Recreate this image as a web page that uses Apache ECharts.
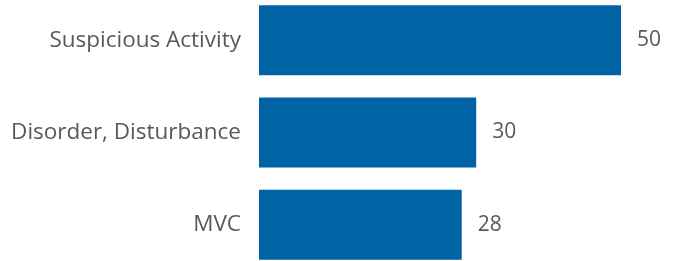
<!DOCTYPE html>
<html>
<head>
<meta charset="utf-8">
<script src="https://cdn.jsdelivr.net/npm/echarts@6/dist/echarts.min.js"></script>
<style>
  html, body { margin: 0; padding: 0; background: #fff; }
  #chart { width: 682px; height: 261px; }
</style>
</head>
<body>
<div id="chart"></div>
<script>
const categories = ['Suspicious Activity', 'Disorder, Disturbance', 'MVC']
const counts = [50, 30, 28]

const chart = echarts.init(document.getElementById('chart'))
chart.setOption({
  animation: false,
  grid: { left: 259, width: 362, top: -6, height: 277, outerBoundsMode: 'none' },
  xAxis: {
    type: 'value',
    min: 0,
    max: 50,
    show: false
  },
  yAxis: {
    type: 'category',
    inverse: true,
    data: categories,
    axisLine: { show: false },
    axisTick: { show: false },
    axisLabel: {
      margin: 18,
      color: '#595959',
      fontFamily: 'Open Sans',
      fontSize: 22.5
    }
  },
  series: [{
    type: 'bar',
    data: counts,
    barWidth: 70,
    itemStyle: { color: '#0063a6' },
    label: {
      show: true,
      position: 'right',
      distance: 16,
      color: '#595959',
      fontFamily: 'Open Sans',
      fontSize: 21
    }
  }]
})
</script>
</body>
</html>
